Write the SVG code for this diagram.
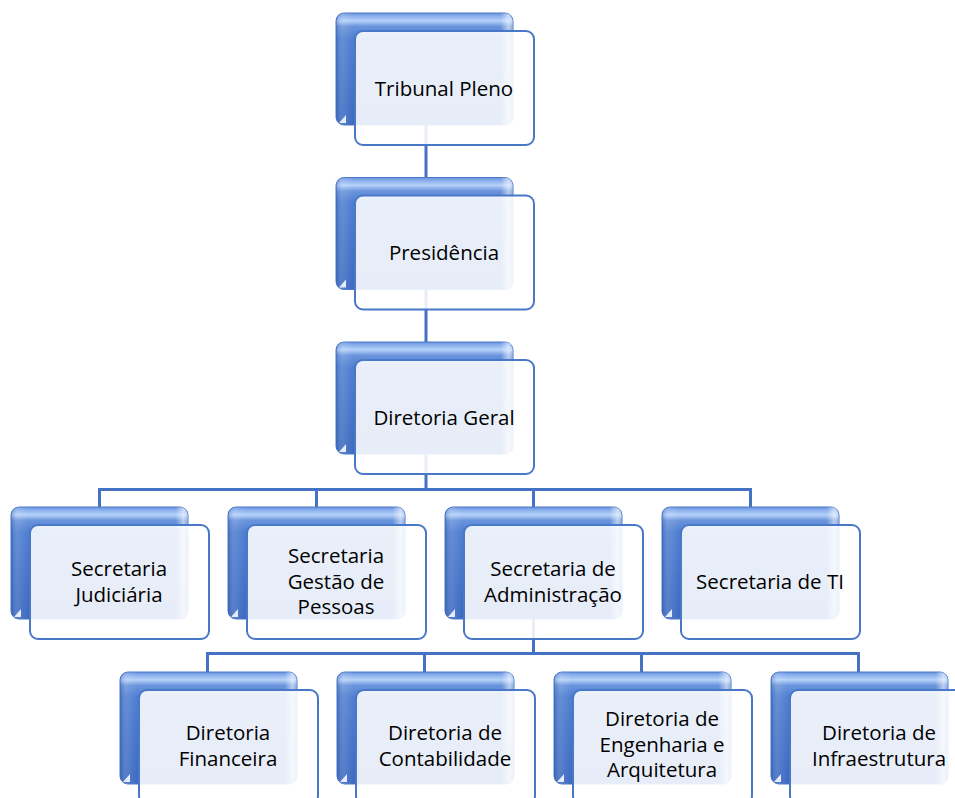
<svg xmlns="http://www.w3.org/2000/svg" width="955" height="798" viewBox="0 0 955 798">
<defs>
<linearGradient id="gV" x1="0" y1="0" x2="0" y2="1">
<stop offset="0" stop-color="#6A93DC"/>
<stop offset="0.03" stop-color="#8DB1EE"/>
<stop offset="0.07" stop-color="#B6D2F9"/>
<stop offset="0.12" stop-color="#6A94DC"/>
<stop offset="0.22" stop-color="#4F7ED0"/>
<stop offset="1" stop-color="#3C69C0"/>
</linearGradient>
<linearGradient id="gH" x1="0" y1="0" x2="1" y2="0">
<stop offset="0" stop-color="#1F4A9E" stop-opacity="0.35"/>
<stop offset="0.04" stop-color="#FFFFFF" stop-opacity="0.12"/>
<stop offset="0.1" stop-color="#FFFFFF" stop-opacity="0"/>
<stop offset="0.93" stop-color="#FFFFFF" stop-opacity="0"/>
<stop offset="0.975" stop-color="#FFFFFF" stop-opacity="0.55"/>
<stop offset="1" stop-color="#FFFFFF" stop-opacity="0.2"/>
</linearGradient>
</defs>
<style>
.back{fill:url(#gV);stroke:#4A78C8;stroke-width:1}
.backH{fill:url(#gH)}
.glare{fill:#FFFFFF;opacity:0.85}
.front{fill:#FFFFFF;fill-opacity:0.88;stroke:#4A78C8;stroke-width:2}
.lbl{font-family:"Open Sans","Noto Sans","Liberation Sans",sans-serif;font-size:20.5px;fill:#000000;text-anchor:middle}
.con{fill:none;stroke:#4472C4;stroke-width:3}
</style>
<rect width="955" height="798" fill="#FFFFFF"/>
<g id="connectors">
<path class="con" d="M426 125V180M426 289V344M426 454V489.5"/>
<path class="con" d="M99.5 508V489.5H750.5V508M316.5 489.5V508M533.5 489.5V508"/>
<path class="con" d="M533.5 618V653.5"/>
<path class="con" d="M207.5 673V653.5H858.5V673M424.5 653.5V673M641.5 653.5V673"/>
</g>
<g id="n1">
<rect class="back" x="336" y="13" width="177" height="112" rx="8"/>
<rect class="backH" x="336" y="13" width="177" height="112" rx="8"/>
<path class="glare" d="M339 123L346 115V123Z"/>
<rect class="front" x="355" y="31" width="179" height="114" rx="8"/>
<text class="lbl" x="444" y="95.5">Tribunal Pleno</text>
</g>
<g id="n2">
<rect class="back" x="336" y="177.5" width="177" height="112" rx="8"/>
<rect class="backH" x="336" y="177.5" width="177" height="112" rx="8"/>
<path class="glare" d="M339 287.5L346 279.5V287.5Z"/>
<rect class="front" x="355" y="195.5" width="179" height="114" rx="8"/>
<text class="lbl" x="444" y="260">Presidência</text>
</g>
<g id="n3">
<rect class="back" x="336" y="342" width="177" height="112" rx="8"/>
<rect class="backH" x="336" y="342" width="177" height="112" rx="8"/>
<path class="glare" d="M339 452L346 444V452Z"/>
<rect class="front" x="355" y="360" width="179" height="114" rx="8"/>
<text class="lbl" x="444" y="424.5">Diretoria Geral</text>
</g>
<g id="s1">
<rect class="back" x="11" y="507" width="177" height="112" rx="8"/>
<rect class="backH" x="11" y="507" width="177" height="112" rx="8"/>
<path class="glare" d="M14 617L21 609V617Z"/>
<rect class="front" x="30" y="525" width="179" height="114" rx="8"/>
<text class="lbl" x="119" y="576">Secretaria</text>
<text class="lbl" x="119" y="601.5">Judiciária</text>
</g>
<g id="s2">
<rect class="back" x="228" y="507" width="177" height="112" rx="8"/>
<rect class="backH" x="228" y="507" width="177" height="112" rx="8"/>
<path class="glare" d="M231 617L238 609V617Z"/>
<rect class="front" x="247" y="525" width="179" height="114" rx="8"/>
<text class="lbl" x="336" y="563">Secretaria</text>
<text class="lbl" x="336" y="588.5">Gestão de</text>
<text class="lbl" x="336" y="614">Pessoas</text>
</g>
<g id="s3">
<rect class="back" x="445" y="507" width="177" height="112" rx="8"/>
<rect class="backH" x="445" y="507" width="177" height="112" rx="8"/>
<path class="glare" d="M448 617L455 609V617Z"/>
<rect class="front" x="464" y="525" width="179" height="114" rx="8"/>
<text class="lbl" x="553" y="576">Secretaria de</text>
<text class="lbl" x="553" y="601.5">Administração</text>
</g>
<g id="s4">
<rect class="back" x="662" y="507" width="177" height="112" rx="8"/>
<rect class="backH" x="662" y="507" width="177" height="112" rx="8"/>
<path class="glare" d="M665 617L672 609V617Z"/>
<rect class="front" x="681" y="525" width="179" height="114" rx="8"/>
<text class="lbl" x="770" y="589">Secretaria de TI</text>
</g>
<g id="d1">
<rect class="back" x="120" y="672" width="177" height="112" rx="8"/>
<rect class="backH" x="120" y="672" width="177" height="112" rx="8"/>
<path class="glare" d="M123 782L130 774V782Z"/>
<rect class="front" x="139" y="690" width="179" height="114" rx="8"/>
<text class="lbl" x="228" y="740">Diretoria</text>
<text class="lbl" x="228" y="765.5">Financeira</text>
</g>
<g id="d2">
<rect class="back" x="337" y="672" width="177" height="112" rx="8"/>
<rect class="backH" x="337" y="672" width="177" height="112" rx="8"/>
<path class="glare" d="M340 782L347 774V782Z"/>
<rect class="front" x="356" y="690" width="179" height="114" rx="8"/>
<text class="lbl" x="445" y="740">Diretoria de</text>
<text class="lbl" x="445" y="765.5">Contabilidade</text>
</g>
<g id="d3">
<rect class="back" x="554" y="672" width="177" height="112" rx="8"/>
<rect class="backH" x="554" y="672" width="177" height="112" rx="8"/>
<path class="glare" d="M557 782L564 774V782Z"/>
<rect class="front" x="573" y="690" width="179" height="114" rx="8"/>
<text class="lbl" x="662" y="726">Diretoria de</text>
<text class="lbl" x="662" y="751.5">Engenharia e</text>
<text class="lbl" x="662" y="777">Arquitetura</text>
</g>
<g id="d4">
<rect class="back" x="771" y="672" width="177" height="112" rx="8"/>
<rect class="backH" x="771" y="672" width="177" height="112" rx="8"/>
<path class="glare" d="M774 782L781 774V782Z"/>
<rect class="front" x="790" y="690" width="179" height="114" rx="8"/>
<text class="lbl" x="879" y="740">Diretoria de</text>
<text class="lbl" x="879" y="765.5">Infraestrutura</text>
</g>
</svg>
